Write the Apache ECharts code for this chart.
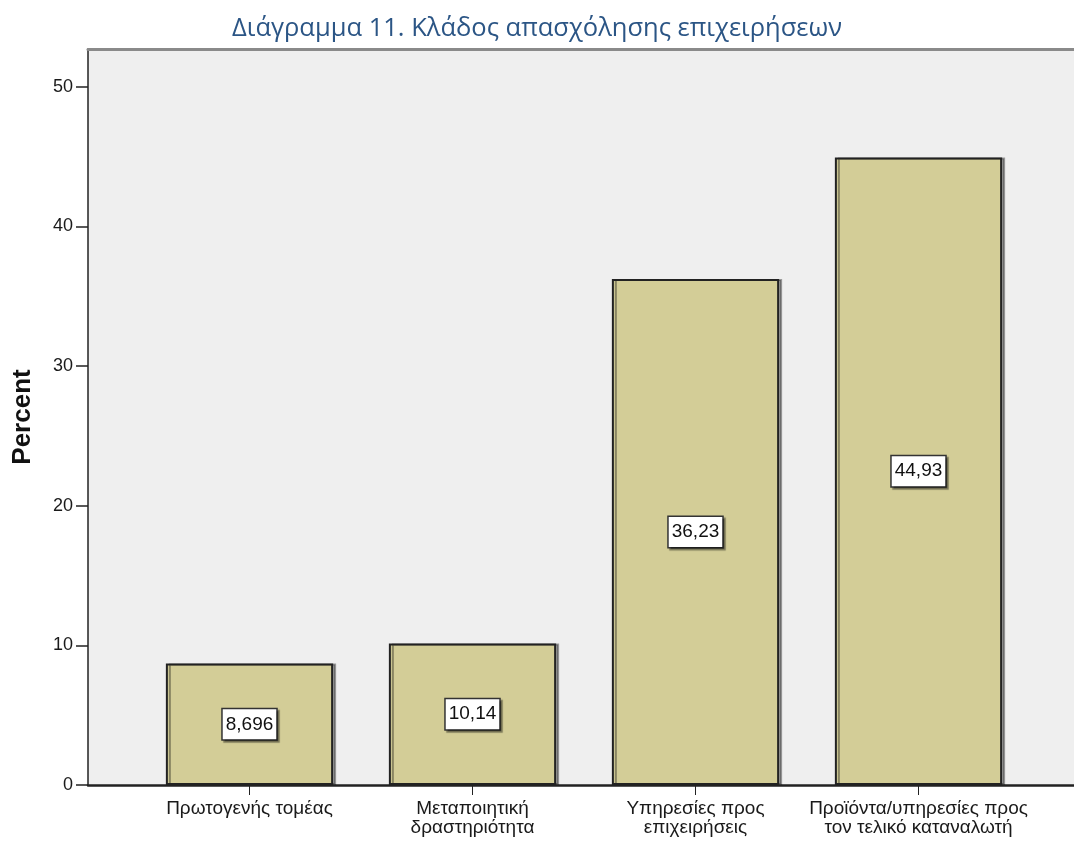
<!DOCTYPE html>
<html>
<head>
<meta charset="utf-8">
<script src="https://cdn.jsdelivr.net/npm/echarts@6/dist/echarts.min.js"></script>
<style>
html, body { margin: 0; padding: 0; background: #fff; }
#chart { width: 1074px; height: 842px; }
</style>
</head>
<body>
<div id="chart"></div>
<script>
// categories and percentages
var categories = [
  'Πρωτογενής τομέας',
  'Μεταποιητική\nδραστηριότητα',
  'Υπηρεσίες προς\nεπιχειρήσεις',
  'Προϊόντα/υπηρεσίες προς\nτον τελικό καταναλωτή'
];
var percents = [8.696, 10.14, 36.23, 44.93];
var yTicks = [0, 10, 20, 30, 40, 50];

var chart = echarts.init(document.getElementById('chart'));

var axisFont = { fontFamily: 'Liberation Sans', color: '#1a1a1a' };

var option = {
  animation: false,
  title: {
    text: 'Διάγραμμα 11. Κλάδος απασχόλησης επιχειρήσεων',
    left: 'center',
    top: 11,
    textStyle: { fontFamily: 'Open Sans', fontWeight: 'normal', fontSize: 25.5, color: '#2B5585' }
  },
  grid: [
    // frame: grey plot background + value axis
    { left: 88, top: 49, right: -10, bottom: 57, show: true, backgroundColor: '#EFEFEF', borderWidth: 0,
      containLabel: false, outerBoundsMode: 'none' },
    // bars
    { left: 138, width: 892, top: 49, bottom: 57, containLabel: false, outerBoundsMode: 'none' }
  ],
  xAxis: [
    { gridIndex: 0, type: 'value', min: 0, max: 1, position: 'bottom',
      axisLine: { show: true, lineStyle: { color: '#222', width: 2.5 } },
      axisTick: { show: false }, axisLabel: { show: false }, splitLine: { show: false } },
    { gridIndex: 0, type: 'value', min: 0, max: 1, position: 'top',
      axisLine: { show: true, lineStyle: { color: '#8a8a8a', width: 3 } },
      axisTick: { show: false }, axisLabel: { show: false }, splitLine: { show: false } },
    { gridIndex: 1, type: 'category', data: categories,
      axisLine: { show: false },
      axisTick: { show: true, alignWithLabel: true, length: 10, lineStyle: { color: '#222', width: 1 } },
      axisLabel: Object.assign({ interval: 0, fontSize: 19, lineHeight: 19, margin: 14 }, axisFont) }
  ],
  yAxis: [
    { gridIndex: 0, type: 'value', min: 0, max: 52.7,
      name: 'Percent', nameLocation: 'middle', nameGap: 52, nameRotate: 90,
      nameTextStyle: { fontFamily: 'Liberation Sans', fontWeight: 'bold', fontSize: 26, color: '#111' },
      axisLine: { show: true, lineStyle: { color: '#222', width: 1.5 } },
      axisTick: { show: true, length: 12, customValues: yTicks, lineStyle: { color: '#222', width: 1.5 } },
      axisLabel: Object.assign({ fontSize: 18, margin: 15, customValues: yTicks }, axisFont),
      splitLine: { show: false } },
    { gridIndex: 1, type: 'value', min: 0, max: 52.7, show: false }
  ],
  series: [{
    type: 'bar',
    xAxisIndex: 2,
    yAxisIndex: 1,
    data: percents,
    barCategoryGap: '25%',
    itemStyle: {
      color: '#D3CD97',
      borderColor: '#222',
      borderWidth: 2,
      shadowColor: 'rgba(0,0,0,0.35)',
      shadowOffsetX: 3,
      shadowOffsetY: 0,
      shadowBlur: 0
    },
    label: {
      show: true,
      position: 'inside',
      formatter: function (p) { return String(p.value).replace('.', ','); },
      fontFamily: 'Liberation Sans',
      fontSize: 19,
      color: '#111',
      backgroundColor: '#fff',
      borderColor: '#333',
      borderWidth: 1.5,
      padding: [6, 3, 5, 3],
      shadowColor: 'rgba(0,0,0,0.4)',
      shadowOffsetX: 2,
      shadowOffsetY: 2,
      shadowBlur: 1
    }
  }]
};

chart.setOption(option);
</script>
</body>
</html>
